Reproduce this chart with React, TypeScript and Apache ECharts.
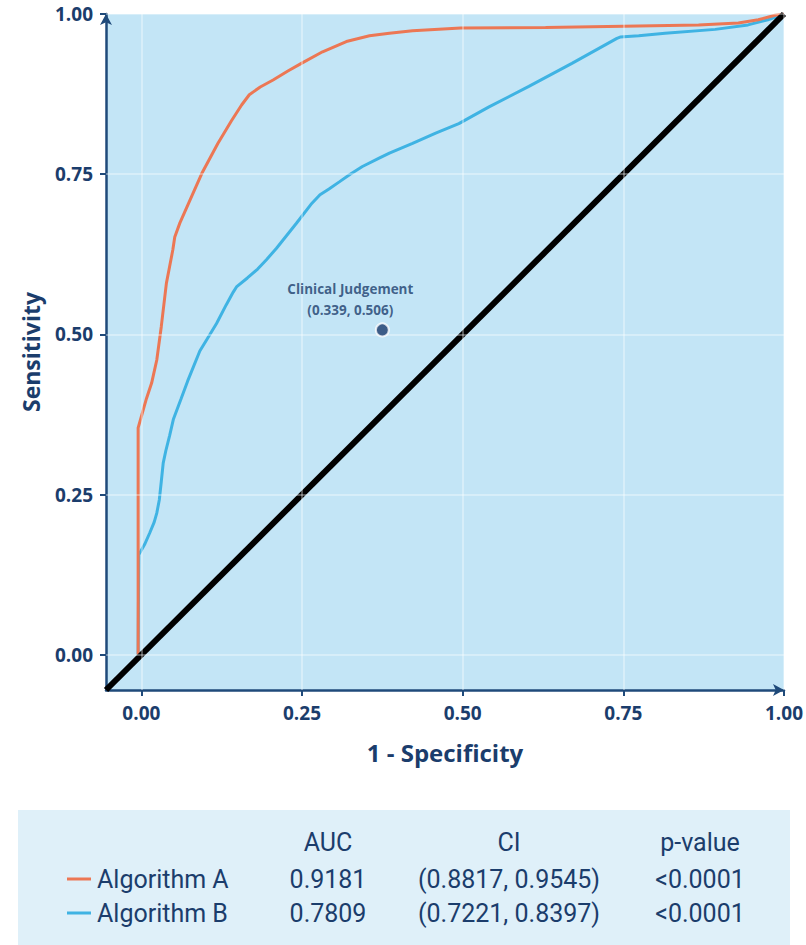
import React, { useEffect, useRef } from 'react';
import * as echarts from 'echarts';

const xTicks = [0, 0.25, 0.5, 0.75, 1];
const yTicks = [0, 0.25, 0.5, 0.75, 1];

const algorithmA: [number, number][] = [
  [-0.005, 0], [-0.005, 0.354], [0.008, 0.4], [0.016, 0.424], [0.024, 0.46], [0.031, 0.512],
  [0.039, 0.58], [0.044, 0.606], [0.049, 0.632], [0.052, 0.652], [0.06, 0.674], [0.075, 0.708],
  [0.094, 0.751], [0.119, 0.798], [0.14, 0.833], [0.156, 0.858], [0.168, 0.874], [0.185, 0.886],
  [0.205, 0.897], [0.228, 0.911], [0.249, 0.923], [0.282, 0.941], [0.319, 0.957], [0.355, 0.966],
  [0.386, 0.97], [0.422, 0.974], [0.497, 0.978], [0.629, 0.979], [0.75, 0.981], [0.867, 0.983],
  [0.929, 0.986], [0.96, 0.991], [0.986, 0.998], [1, 1],
];

const algorithmB: [number, number][] = [
  [-0.005, 0], [-0.004, 0.156], [0.005, 0.172], [0.013, 0.19], [0.02, 0.207], [0.024, 0.221],
  [0.028, 0.242], [0.031, 0.27], [0.034, 0.299], [0.038, 0.318], [0.044, 0.342], [0.05, 0.368],
  [0.062, 0.4], [0.072, 0.427], [0.091, 0.474], [0.105, 0.497], [0.117, 0.517], [0.132, 0.546],
  [0.143, 0.566], [0.148, 0.574], [0.165, 0.588], [0.181, 0.602], [0.195, 0.617], [0.21, 0.634],
  [0.241, 0.673], [0.264, 0.703], [0.278, 0.718], [0.292, 0.727], [0.308, 0.738], [0.325, 0.75],
  [0.344, 0.762], [0.37, 0.775], [0.386, 0.783], [0.422, 0.798], [0.458, 0.814], [0.494, 0.829],
  [0.541, 0.855], [0.603, 0.887], [0.67, 0.923], [0.74, 0.962], [0.745, 0.964], [0.774, 0.966],
  [0.815, 0.97], [0.893, 0.976], [0.944, 0.983], [0.975, 0.991], [1, 1],
];

const chanceLine: [number, number][] = [[-0.055, -0.055], [1, 1]];
const clinicalJudgement: [number, number][] = [[0.375, 0.507]];
const clinicalLabel = ['Clinical Judgement', '(0.339, 0.506)'];

const tableHeaders = ['AUC', 'CI', 'p-value'];
const tableNames = ['Algorithm A', 'Algorithm B'];
const tableAUC = ['0.9181', '0.7809'];
const tableCI = ['(0.8817, 0.9545)', '(0.7221, 0.8397)'];
const tableP = ['<0.0001', '<0.0001'];

const NAVY = '#1f4a7a';
const TEXT = '#1b3d6c';
const ORANGE = '#ec7754';
const BLUE = '#3fb3e3';
const seriesColors = [ORANGE, BLUE];

export default function App() {
  const ref = useRef<HTMLDivElement>(null);

  useEffect(() => {
    document.body.style.margin = '0';
    const chart = echarts.init(ref.current!, null, { renderer: 'svg' });

    const colX = [328, 509, 700];
    const rowY = [879, 913];
    const tableFont = { fontFamily: 'Roboto', fontSize: 25, fill: TEXT };
    const graphics: any[] = [
      { type: 'rect', shape: { x: 18, y: 810, width: 772, height: 135 }, style: { fill: '#dff0f9' }, z: 0 },
    ];
    tableHeaders.forEach((h, i) => {
      graphics.push({ type: 'text', x: colX[i], y: 842, style: { ...tableFont, text: h, align: 'center', verticalAlign: 'middle' } });
    });
    tableNames.forEach((n, r) => {
      graphics.push({ type: 'line', shape: { x1: 67, y1: rowY[r], x2: 91, y2: rowY[r] }, style: { stroke: seriesColors[r], lineWidth: 3 } });
      graphics.push({ type: 'text', x: 97, y: rowY[r], style: { ...tableFont, text: n, align: 'left', verticalAlign: 'middle' } });
      graphics.push({ type: 'text', x: colX[0], y: rowY[r], style: { ...tableFont, text: tableAUC[r], align: 'center', verticalAlign: 'middle' } });
      graphics.push({ type: 'text', x: colX[1], y: rowY[r], style: { ...tableFont, text: tableCI[r], align: 'center', verticalAlign: 'middle' } });
      graphics.push({ type: 'text', x: colX[2], y: rowY[r], style: { ...tableFont, text: tableP[r], align: 'center', verticalAlign: 'middle' } });
    });

    const axisCommon = {
      type: 'value',
      min: -0.055,
      max: 1,
      nameLocation: 'middle',
      nameTextStyle: { color: TEXT, fontWeight: 'bold', fontFamily: 'Open Sans' },
      axisLine: { show: true, onZero: false, symbol: ['none', 'arrow'], symbolSize: [9, 11], lineStyle: { color: NAVY, width: 2.5 } },
      axisTick: { show: true, length: 6, lineStyle: { color: NAVY, width: 2 } },
      splitLine: { show: false },
      axisLabel: { color: TEXT, fontWeight: 'bold', fontFamily: 'Open Sans', fontSize: 19, margin: 13, formatter: (v: number) => v.toFixed(2) },
    };

    chart.setOption({
      animation: false,
      grid: { left: 106, right: 20, top: 14, bottom: 255, show: true, backgroundColor: '#c3e5f6', borderWidth: 0 },
      xAxis: {
        ...axisCommon,
        name: '1 - Specificity',
        nameGap: 50,
        nameTextStyle: { ...axisCommon.nameTextStyle, fontSize: 24 },
        axisTick: { ...axisCommon.axisTick, customValues: xTicks },
        axisLabel: { ...axisCommon.axisLabel, customValues: xTicks, margin: 13 },
      },
      yAxis: {
        ...axisCommon,
        name: 'Sensitivity',
        nameGap: 64,
        nameRotate: 90,
        nameTextStyle: { ...axisCommon.nameTextStyle, fontSize: 23 },
        axisTick: { ...axisCommon.axisTick, customValues: yTicks },
        axisLabel: { ...axisCommon.axisLabel, customValues: yTicks },
      },
      graphic: graphics,
      series: [
        {
          type: 'line',
          data: [],
          silent: true,
          z: 1,
          markLine: {
            silent: true,
            symbol: 'none',
            label: { show: false },
            lineStyle: { color: 'rgba(255,255,255,0.45)', width: 1.5, type: 'solid' },
            data: [...xTicks.map((t) => ({ xAxis: t })), ...yTicks.map((t) => ({ yAxis: t }))],
          },
        },
        { type: 'line', name: 'Algorithm B', data: algorithmB, showSymbol: false, z: 2, lineStyle: { color: BLUE, width: 3 } },
        { type: 'line', name: 'Algorithm A', data: algorithmA, showSymbol: false, z: 3, lineStyle: { color: ORANGE, width: 3 } },
        { type: 'line', name: 'Chance', data: chanceLine, showSymbol: false, z: 4, lineStyle: { color: '#000', width: 6 } },
        {
          type: 'scatter',
          name: 'Clinical Judgement',
          data: clinicalJudgement,
          z: 5,
          symbolSize: 13,
          itemStyle: { color: '#1a3a6b', borderColor: '#fff', borderWidth: 2 },
          label: {
            show: true,
            position: 'top',
            distance: 2,
            offset: [-32, 0],
            formatter: clinicalLabel.join('\n'),
            color: TEXT,
            fontWeight: 'bold',
            fontFamily: 'Open Sans',
            fontSize: 13.5,
            lineHeight: 21,
            align: 'center',
          },
        },
      ],
    });

    return () => chart.dispose();
  }, []);

  return <div ref={ref} style={{ width: 806, height: 945 }} />;
}
